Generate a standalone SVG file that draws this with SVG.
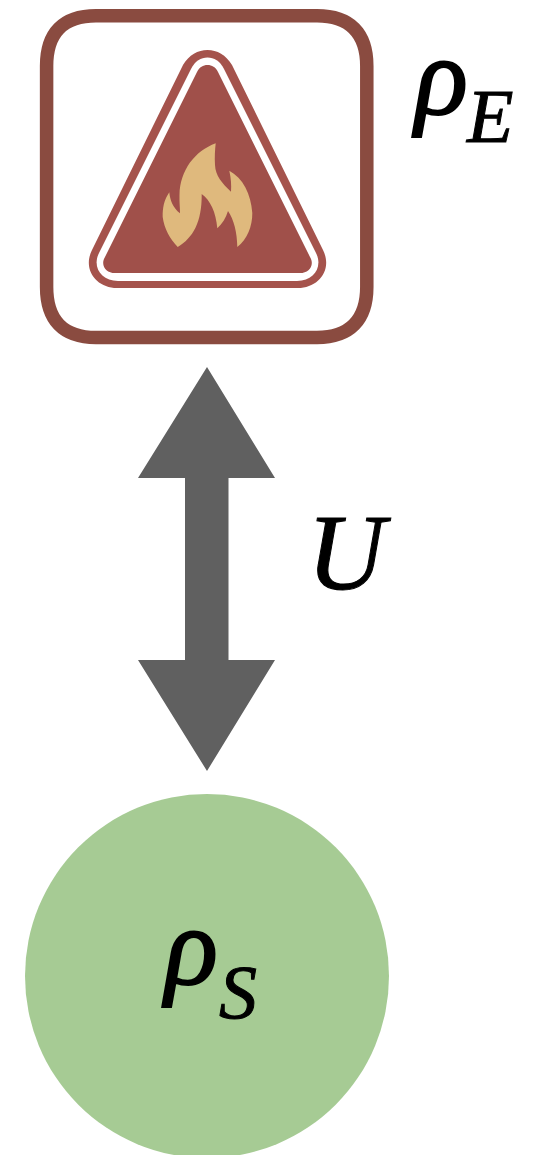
<svg xmlns="http://www.w3.org/2000/svg" width="545" height="1155" viewBox="0 0 545 1155">
<style>
.m{font-family:"Liberation Serif","Times New Roman",serif;font-style:italic;fill:#000;stroke:#000;stroke-width:1}
.big{font-size:108px}
.rho{font-size:110px;stroke-width:2}
.sub{font-size:76px}
</style>
<rect width="545" height="1155" fill="#fff"/>
<g id="connectors">
<path id="arrow-u" d="M207 367L275 478H228.500V660H275L207 771L138 660H185V478H138Z" fill="#606060"/>
</g>
<g id="node-environment">
<path d="M96 15.800H317C350 15.800 366.800 33 366.800 66V287C366.800 320 350 337.500 317 337.500H96C63 337.500 46.600 320 46.600 287V66C46.600 33 63 15.800 96 15.800Z" fill="#fff" stroke="#8a4b40" stroke-width="13.500"/>
<path d="M207.500 50C217 50 226 55 232 65L323 250C333 270 318 288 298 288H117C97 288 82 270 92 250L183 65C189 55 198 50 207.500 50Z" fill="#a5534c"/>
<path d="M207.500 57.500C214 57.500 220 61 224 69L316 253C323 267 314 281 297 281H118C101 281 92 267 99 253L191 69C195 61 201 57.500 207.500 57.500Z" fill="#fff"/>
<path d="M207.500 65C212 65 215.500 67 218 72L310 257C315 265 309 273 300 273H115C106 273 100 265 105 257L197 72C199.500 67 203 65 207.500 65Z" fill="#a0504a"/>
<path d="M215.700 143.300C195 151 180 170 179.500 195C179.300 202 180 207 180 213.300C173 208 170 200 169.300 192.300C164 200 162.500 208 162.700 217C164 228 170 239 177.700 247C193 238 202 222 201.700 194C210 200 216 212 217.300 228.300C222 224 226 218 228 211C234 220 237 232 237.300 247C247 240 252.500 226 252.300 213C251 194 243 178 229.300 170.700C231 178 231.500 185 231 191.700C222 183 215.500 176 215 165C214.500 157 215 150 215.700 143.300Z" fill="#dfb97d"/>
<text class="m rho" x="415" y="114">ρ</text>
<text class="m sub" x="467" y="142">E</text>
</g>
<g id="label-u">
<text class="m big" x="307" y="589" textLength="78">U</text>
</g>
<g id="node-system">
<circle cx="207" cy="976" r="182" fill="#a6cb94"/>
<text class="m rho" x="165" y="984">ρ</text>
<text class="m sub" x="219" y="1018">S</text>
</g>
</svg>
